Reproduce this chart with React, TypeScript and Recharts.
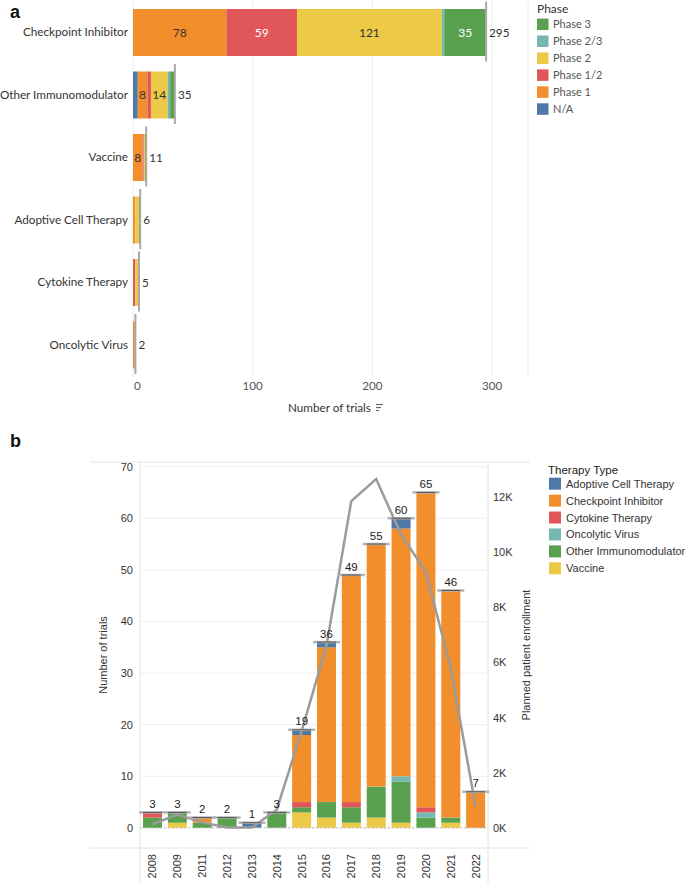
import React from 'react';
import { BarChart, Bar, XAxis, YAxis, CartesianGrid, LabelList, ComposedChart, Line, ReferenceLine } from 'recharts';

// ---------- Panel a data ----------
const therapyTypes = ['Checkpoint Inhibitor', 'Other Immunomodulator', 'Vaccine', 'Adoptive Cell Therapy', 'Cytokine Therapy', 'Oncolytic Virus'];
const phaseNA = [0, 4, 0, 0, 0, 0];
const phase1 = [78, 8, 8, 2, 0, 2];
const phase12 = [59, 3, 1, 0, 2, 0];
const phase2 = [121, 14, 1, 3, 3, 0];
const phase23 = [2, 2, 0, 0, 0, 0];
const phase3 = [35, 4, 1, 1, 0, 0];
const trialTicksA = [0, 100, 200, 300];

// ---------- Panel b data ----------
const years = ['2008', '2009', '2011', '2012', '2013', '2014', '2015', '2016', '2017', '2018', '2019', '2020', '2021', '2022'];
const vaccineByYear = [0, 1, 0, 0, 0, 0, 3, 2, 1, 2, 1, 0, 1, 0];
const otherByYear = [2, 2, 1, 2, 0, 3, 1, 3, 3, 6, 8, 2, 1, 0];
const oncolyticByYear = [0, 0, 0, 0, 0, 0, 0, 0, 0, 0, 1, 1, 0, 0];
const cytokineByYear = [1, 0, 0, 0, 0, 0, 1, 0, 1, 0, 0, 1, 0, 0];
const checkpointByYear = [0, 0, 1, 0, 0, 0, 13, 30, 44, 47, 48, 61, 44, 7];
const adoptiveByYear = [0, 0, 0, 0, 1, 0, 1, 1, 0, 0, 2, 0, 0, 0];
const enrollmentByYear = [130, 480, 200, 15, 10, 660, 3500, 6600, 11850, 12650, 10650, 9280, 5800, 780];
const trialTicksB = [0, 10, 20, 30, 40, 50, 60, 70];
const enrollmentTicks = [0, 2000, 4000, 6000, 8000, 10000, 12000];

const BLUE = '#4e79a7';
const ORANGE = '#f28e2b';
const RED = '#e15759';
const TEAL = '#76b7b2';
const GREEN = '#59a14f';
const YELLOW = '#edc948';

const phaseSeries = [
  { key: 'na', name: 'N/A', color: BLUE, values: phaseNA, text: '#ffffff' },
  { key: 'p1', name: 'Phase 1', color: ORANGE, values: phase1, text: '#333333' },
  { key: 'p12', name: 'Phase 1/2', color: RED, values: phase12, text: '#ffffff' },
  { key: 'p2', name: 'Phase 2', color: YELLOW, values: phase2, text: '#333333' },
  { key: 'p23', name: 'Phase 2/3', color: TEAL, values: phase23, text: '#333333' },
  { key: 'p3', name: 'Phase 3', color: GREEN, values: phase3, text: '#ffffff' },
];

const therapySeries = [
  { key: 'vaccine', name: 'Vaccine', color: YELLOW, values: vaccineByYear },
  { key: 'other', name: 'Other Immunomodulator', color: GREEN, values: otherByYear },
  { key: 'onco', name: 'Oncolytic Virus', color: TEAL, values: oncolyticByYear },
  { key: 'cyto', name: 'Cytokine Therapy', color: RED, values: cytokineByYear },
  { key: 'cpi', name: 'Checkpoint Inhibitor', color: ORANGE, values: checkpointByYear },
  { key: 'act', name: 'Adoptive Cell Therapy', color: BLUE, values: adoptiveByYear },
];
const legendOrderB = ['act', 'cpi', 'cyto', 'onco', 'other', 'vaccine'];

const sumAt = (series: { values: number[] }[], i: number) => series.reduce((acc, s) => acc + s.values[i], 0);
const topIndexAt = (series: { values: number[] }[], i: number) => {
  let top = -1;
  series.forEach((s, si) => {
    if (s.values[i] > 0) top = si;
  });
  return top;
};

const totalsA = therapyTypes.map((_, i) => sumAt(phaseSeries, i));
const topA = therapyTypes.map((_, i) => topIndexAt(phaseSeries, i));
const totalsB = years.map((_, i) => sumAt(therapySeries, i));
const topB = years.map((_, i) => topIndexAt(therapySeries, i));

const dataA = therapyTypes.map((name, i) => {
  const row: any = { name, total: totalsA[i], rowIndex: i };
  phaseSeries.forEach((s) => {
    row[s.key] = s.values[i];
  });
  return row;
});

const dataB = years.map((year, i) => {
  const row: any = { year, enroll: enrollmentByYear[i], total: totalsB[i], rowIndex: i };
  therapySeries.forEach((s) => {
    row[s.key] = s.values[i];
  });
  return row;
});

const rowOf = (entry: any): number => {
  const p = entry && (entry.payload || entry);
  if (p && typeof p.rowIndex === 'number') return p.rowIndex;
  if (p && p.payload && typeof p.payload.rowIndex === 'number') return p.payload.rowIndex;
  return -1;
};

const FONT_A = 'Lato, "Open Sans", sans-serif';
const FONT_B = '"Liberation Sans", Arial, sans-serif';

const geom = (p: any) => {
  const v = p && p.viewBox && typeof p.viewBox.x === 'number' ? p.viewBox : p;
  return { x: Number(v.x) || 0, y: Number(v.y) || 0, width: Number(v.width) || 0, height: Number(v.height) || 0 };
};

const insideLabel = (color: string) => (p: any) => {
  const v = Number(Array.isArray(p.value) ? p.value[1] - p.value[0] : p.value);
  if (!(v >= 8)) return null;
  const g = geom(p);
  return (
    <text x={g.x + g.width / 2} y={g.y + g.height / 2} dy="0.36em" textAnchor="middle" fill={color} fontSize={12} fontFamily={FONT_A}>
      {v}
    </text>
  );
};

const totalLabelA = (p: any) => {
  if (p.value === null || p.value === undefined) return null;
  const g = geom(p);
  const end = g.x + g.width;
  const cy = g.y + g.height / 2;
  return (
    <g>
      <line x1={end} x2={end} y1={cy - 31} y2={cy + 29} stroke="#a9a9a9" strokeWidth={2} />
      <text x={end + 3} y={cy} dy="0.36em" fill="#333" fontSize={11.7} fontFamily={FONT_A}>
        {p.value}
      </text>
    </g>
  );
};

const totalLabelB = (p: any) => {
  if (p.value === null || p.value === undefined) return null;
  const g = geom(p);
  const cx = g.x + g.width / 2;
  const top = g.y;
  return (
    <g>
      <line x1={g.x - 4} x2={g.x + g.width + 4} y1={top} y2={top} stroke="#b3b3b3" strokeWidth={2.5} />
      <line x1={g.x} x2={g.x + g.width} y1={top} y2={top} stroke="#555" strokeWidth={1} />
      <text x={cx} y={top - 4.5} textAnchor="middle" fill="#222" fontSize={11.5} fontFamily={FONT_B}>
        {p.value}
      </text>
    </g>
  );
};

const TickA = (p: any) => {
  const v = p.payload.value;
  return (
    <text x={v === 0 ? p.x + 1 : p.x} y={p.y} dy="0.71em" textAnchor={v === 0 ? 'start' : 'middle'} fill="#555" fontSize={11.7} fontFamily={FONT_A}>
      {v}
    </text>
  );
};

const CatTick = (p: any) => (
  <text x={p.x} y={p.y} dy="0.36em" textAnchor="end" fill="#333" fontSize={11.7} fontFamily={FONT_A}>
    {p.payload.value}
  </text>
);

const LeftTickB = (p: any) => (
  <text x={p.x} y={p.y} dy="0.36em" textAnchor="end" fill="#333" fontSize={11} fontFamily={FONT_B}>
    {p.payload.value}
  </text>
);

const RightTickB = (p: any) => (
  <text x={p.x} y={p.y} dy="0.36em" textAnchor="start" fill="#333" fontSize={11} fontFamily={FONT_B}>
    {`${Math.round(p.payload.value / 1000)}K`}
  </text>
);

const YearTick = (p: any) => (
  <g transform={`translate(${p.x},${p.y})`}>
    <text x={-6} y={0} dy="0.36em" transform="rotate(-90)" textAnchor="end" fill="#333" fontSize={11} fontFamily={FONT_B}>
      {p.payload.value}
    </text>
  </g>
);

export default function App() {
  const legendA = [...phaseSeries].reverse();
  const legendB = legendOrderB.map((k) => therapySeries.find((s) => s.key === k)!);
  const stepA = 16.95;
  const stepB = 16.92;
  return (
    <div style={{ position: 'absolute', left: 0, top: 0, width: 685, height: 883, background: '#fff', overflow: 'hidden' }}>
      <svg style={{ position: 'absolute', left: 0, top: 0 }} width={685} height={883}>
        <line x1={90} x2={530} y1={462} y2={462} stroke="#e2e2e2" strokeWidth={1} />
        <line x1={90} x2={530} y1={848} y2={848} stroke="#e2e2e2" strokeWidth={1} />
        <line x1={140} x2={140} y1={462} y2={883} stroke="#e2e2e2" strokeWidth={1} />
        <line x1={488} x2={488} y1={462} y2={883} stroke="#e2e2e2" strokeWidth={1} />
      </svg>

      <div style={{ position: 'absolute', left: 0, top: 0, fontFamily: FONT_A }}>
        <BarChart width={530} height={420} layout="vertical" data={dataA} margin={{ top: 1, right: 2, bottom: 0, left: 0 }}>
          <CartesianGrid horizontal={false} stroke="#ececec" />
          <XAxis type="number" domain={[0, 330]} ticks={trialTicksA} allowDataOverflow tick={TickA} tickSize={0} tickMargin={6} axisLine={false} tickLine={false} height={44} />
          <YAxis type="category" dataKey="name" width={133} tick={CatTick} tickSize={0} tickMargin={5} axisLine={false} tickLine={false} interval={0} />
          {phaseSeries.map((s, si) => (
            <Bar key={s.key} dataKey={s.key} stackId="a" fill={s.color} barSize={47} isAnimationActive={false}>
              <LabelList dataKey={s.key} content={insideLabel(s.text)} />
              <LabelList
                valueAccessor={(entry: any) => {
                  const r = rowOf(entry);
                  return r >= 0 && topA[r] === si ? totalsA[r] : null;
                }}
                content={totalLabelA}
              />
            </Bar>
          ))}
        </BarChart>
      </div>

      <div style={{ position: 'absolute', left: 0, top: 450, fontFamily: FONT_B }}>
        <ComposedChart width={540} height={433} data={dataB} margin={{ top: 12, right: 0, bottom: 0, left: 0 }}>
          <CartesianGrid vertical={false} yAxisId="left" stroke="#efefef" />
          <XAxis dataKey="year" tick={YearTick} tickSize={0} tickMargin={0} axisLine={false} tickLine={false} height={35} interval={0} />
          <YAxis yAxisId="left" domain={[-3.9, 70.9]} ticks={trialTicksB} allowDataOverflow width={140} tick={LeftTickB} tickSize={0} tickMargin={7} axisLine={false} tickLine={false} />
          <YAxis yAxisId="right" orientation="right" domain={[-730, 13270]} ticks={enrollmentTicks} allowDataOverflow width={52} tick={RightTickB} tickSize={0} tickMargin={5} axisLine={false} tickLine={false} />
          <ReferenceLine yAxisId="left" y={0} stroke="#bdbdbd" strokeDasharray="2 2" />
          {therapySeries.map((s, si) => (
            <Bar key={s.key} yAxisId="left" dataKey={s.key} stackId="b" fill={s.color} barSize={19} isAnimationActive={false}>
              <LabelList
                valueAccessor={(entry: any) => {
                  const r = rowOf(entry);
                  return r >= 0 && topB[r] === si ? totalsB[r] : null;
                }}
                content={totalLabelB}
              />
            </Bar>
          ))}
          <Line yAxisId="right" dataKey="enroll" type="linear" stroke="#9b9b9b" strokeWidth={2.5} dot={false} activeDot={false} isAnimationActive={false} />
        </ComposedChart>
      </div>

      <svg style={{ position: 'absolute', left: 0, top: 0, pointerEvents: 'none' }} width={685} height={883}>
        <text x={10} y={18} fontFamily={FONT_B} fontWeight="bold" fontSize={18} fill="#111">a</text>
        <text x={10} y={447} fontFamily={FONT_B} fontWeight="bold" fontSize={18} fill="#111">b</text>

        {/* panel a axis title with sort icon */}
        <text x={288} y={412} fontFamily={FONT_A} fontSize={11.7} fill="#333">Number of trials</text>
        <g stroke="#666" strokeWidth={1.2}>
          <line x1={376} x2={383} y1={404.5} y2={404.5} />
          <line x1={376} x2={381} y1={407.5} y2={407.5} />
          <line x1={376} x2={379} y1={410.5} y2={410.5} />
        </g>

        {/* panel a legend */}
        <text x={537} y={13} fontFamily={FONT_A} fontSize={12} fill="#333">Phase</text>
        {legendA.map((s, i) => {
          const cy = 24.3 + i * stepA;
          return (
            <g key={s.key}>
              <rect x={537} y={cy - 5.75} width={11.5} height={11.5} fill={s.color} />
              <text x={553} y={cy} dy="0.36em" fontFamily={FONT_A} fontSize={11} fill="#555">{s.name}</text>
            </g>
          );
        })}

        {/* panel b axis titles */}
        <text transform="translate(103,655) rotate(-90)" textAnchor="middle" dy="0.36em" fontFamily={FONT_B} fontSize={11} fill="#333">Number of trials</text>
        <text transform="translate(526,655) rotate(-90)" textAnchor="middle" dy="0.36em" fontFamily={FONT_B} fontSize={11} fill="#333">Planned patient enrollment</text>

        {/* panel b legend */}
        <text x={548} y={470} dy="0.36em" fontFamily={FONT_B} fontSize={11.5} fill="#222">Therapy Type</text>
        {legendB.map((s, i) => {
          const cy = 483.7 + i * stepB;
          return (
            <g key={s.key}>
              <rect x={549} y={cy - 6} width={12} height={12} fill={s.color} />
              <text x={566} y={cy} dy="0.36em" fontFamily={FONT_B} fontSize={11} fill="#333">{s.name}</text>
            </g>
          );
        })}
      </svg>
    </div>
  );
}
